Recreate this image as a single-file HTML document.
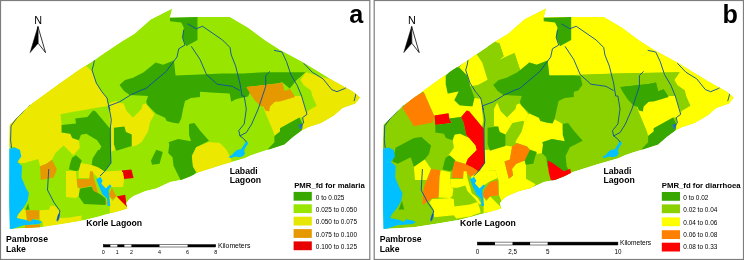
<!DOCTYPE html>
<html><head><meta charset="utf-8"><title>PMR maps</title>
<style>
html,body{margin:0;padding:0;background:#fff}
body{width:744px;height:260px;overflow:hidden;font-family:"Liberation Sans",sans-serif}
svg{display:block}
text{font-family:"Liberation Sans",sans-serif;fill:#000}
.b{font-weight:bold}
</style></head><body>
<svg width="744" height="260" viewBox="0 0 744 260">
<defs><clipPath id="clip"><polygon points="9.3,145 9.7,124.8 30,105 60,83.3 79.2,69.8 94.6,60 100,56 121.6,41.5 134.5,33.8 150.6,19.4 172.2,8.6 170,17.5 197.5,17 230,17 248,27.5 264.7,40 280,49.7 303.7,62.6 333.9,81 353.3,91.7 360,97.5 355.4,103.5 342.5,107.9 333.9,115.4 321,122.9 308,127.3 301.6,130.5 292.9,137 284.3,144.5 269,149.5 260,152.3 251.2,155.3 244.7,158.2 240.4,159.6 223,164.5 199.4,172 190,176.6 181,179.9 170.3,182 156.3,188.5 145,191.3 133.8,196 129.8,198.8 126.3,203 127.5,208.6 116,212 105,214.8 99,216.5 85,220 62.5,223.8 40,227.3 9.8,229 9.2,202.5 9.3,165 9.3,148.75"/></clipPath></defs>
<rect x="0" y="0" width="744" height="260" fill="#fff"/>
<rect x="0.5" y="0.5" width="369.3" height="259" fill="#fff" stroke="#7d7d7d" stroke-width="1.2"/>
<rect x="374.2" y="0.5" width="369.3" height="259" fill="#fff" stroke="#7d7d7d" stroke-width="1.2"/>
<g transform="translate(0,0)"><g clip-path="url(#clip)"><polygon points="9.3,145 9.7,124.8 30,105 60,83.3 79.2,69.8 94.6,60 100,56 121.6,41.5 134.5,33.8 150.6,19.4 172.2,8.6 170,17.5 197.5,17 230,17 248,27.5 264.7,40 280,49.7 303.7,62.6 333.9,81 353.3,91.7 360,97.5 355.4,103.5 342.5,107.9 333.9,115.4 321,122.9 308,127.3 301.6,130.5 292.9,137 284.3,144.5 269,149.5 260,152.3 251.2,155.3 244.7,158.2 240.4,159.6 223,164.5 199.4,172 190,176.6 181,179.9 170.3,182 156.3,188.5 145,191.3 133.8,196 129.8,198.8 126.3,203 127.5,208.6 116,212 105,214.8 99,216.5 85,220 62.5,223.8 40,227.3 9.8,229 9.2,202.5 9.3,165 9.3,148.75" fill="#98e600"/><polygon points="8,146 9,120 30,100 60,80 85,62 86,66 92,71 96.3,83 101.7,91.5 107,98 108.2,106 96.3,107.7 84.5,109.9 74.8,111.4 60.5,114.3 61.6,125 61.6,132.6 70.2,133.7 72.3,138 78.8,140.2 79.9,147.7 73.4,155.3 63.7,145.6 58.5,150 55.3,153.2 52,159.7 46.4,163.8 40,166.2 38.3,158.9 24.6,163 18.9,163 15,147" fill="#ece800"/><polygon points="109.3,103 116,101 123.3,104 123.3,109 126.5,111 120,126 110,127" fill="#ece800"/><polygon points="61.6,125 76,123.5 75.2,118.6 87.4,117 93,110.5 95.5,111.3 108.4,126.7 110,128.5 110.5,151 109,166 100,169 91.7,166 92.8,161.7 101.4,146.6 97.1,140.2 86.3,133.7 81,134.8 78.8,140.2 72.3,138 70.2,133.7 61.6,132.6" fill="#38a800"/><polygon points="72,157.8 76,155.2 81.7,160.2 80.5,165 78.5,170.5 75.2,171 68.8,169.3 70.4,162.7" fill="#38a800"/><polygon points="119.5,85 125,80 133,77.7 143.7,72.3 155.6,62.6 163,64.8 173.9,60.5 175.6,75.6 200,74.5 221.6,73.4 243,73.4 264.7,72.3 293,72.3 305.9,72.3 295,82 289.7,88.5 282,82 280,83 246.6,87.1 249.8,92.8 248,96.5 241.7,97.7 236,99.3 231.2,101.7 229.6,93.6 215,92.8 200,91.7 200,97 191,98 185,101 182.9,109.7 181.3,118.6 178.8,123.5 173.2,122.7 166.7,121 165.1,117.8 156.2,113.8 147.3,104.9 146.2,102 148,96 129.7,95 124,91" fill="#38a800"/><polygon points="170,17.5 197.5,17 197.5,40 186.25,46.25 182.5,37.5 183.75,27.5 181.25,22.5 170,21.25" fill="#38a800"/><polygon points="246.6,87.1 275,83.9 280,83 282.3,82.5 284.5,91.3 289.9,89.2 295,96.9 280,101.4 275,101.7 270,106.6 269.2,111.4 265.2,110.6 263.5,106.6 260.3,105.7 254.6,100 249.8,92.8" fill="#e69800"/><polygon points="305.9,72.3 300.5,79.9 303.7,85.3 311,90.6 312.3,96 316.6,105.7 308,110.7 307,114.3 302.6,117.6 299.4,117.6 280,128.3 280,131.6 274.4,135.9 273.3,131.6 264.7,111 262,103 280,99 294,96 301.6,96 307,112 309,111 303,96 297,84 295,82" fill="#ece800"/><polygon points="305.9,72.3 300.5,79.9 303.7,85.3 311,90.6 312.3,96 316.6,105.7 308,110.7 307,114.3 302.6,117.6 303,124 301.6,130.5 310,130 365,100 360,94 340,82" fill="#ece800"/><polygon points="301.6,96 312.3,96 316.6,105.7 308,110.7" fill="#98e600"/><polygon points="295,82 305.9,72.3 300.5,79.9 303.7,85.3 311,90.6 312.3,96 301.6,96 297,85" fill="#98e600"/><polygon points="280,128.3 299.4,117.6 302.6,124 301.6,132 285,146 269,150 268,149 274.4,142.3 274.4,135.9 280,131.6" fill="#38a800"/><polygon points="189,124 194.4,123 200,130.5 208.6,140.2 209,140.8 196.2,147.2 191.9,155.9 193,166.6 196.2,172 193,176.3 181,181 173.6,165.9 172.5,157.2 168.2,153 169.3,144.3 168.5,142.3 178.2,139 191,141.3 189,134.8" fill="#38a800"/><polygon points="156.3,149.7 162.8,151.9 159.6,163.7 152,164.8 151,160.5" fill="#38a800"/><polygon points="196.2,147.2 209,141.9 219.9,143 226.3,149.4 230.6,158 232,163 200.5,173 196.2,172 193,166.6 191.9,155.9" fill="#ece800"/><polygon points="120,109 123.2,102.5 126.5,111 133,117.6 141.5,108.9 142.6,104.6 145.9,103.5 154.5,114.3 150.2,121.9 148,131.6 141.5,142.3 137,145 133,146.6 131.7,145.9 131.7,134.6 126,132.1 124.4,126.5 120,126" fill="#ece800"/><polygon points="111.3,126 125,126 127,133 114.5,133 114.5,150.5 111.3,151.5" fill="#ece800"/><polygon points="113.9,127.8 124.4,126.5 126,132.1 131.7,134.6 131.7,145.9 116.3,150.7 113.9,144.3" fill="#38a800"/><polygon points="121.7,170.5 131.4,169.4 133.6,178 123.9,179" fill="#e60000"/><polygon points="116.5,196.5 125.2,194.8 126.8,207 124.5,206" fill="#e60000"/><polygon points="98,150 111,150 111,163 104.5,171.6 98,167.2 91.6,165 92.6,158.6" fill="#38a800"/><polygon points="80.8,163 91.6,165 98,167.2 104.5,171.6 121.7,170.5 123.9,178 116.3,181.3 109.9,185.6 105.6,189.9 101.3,183.4 97,177 92.6,172.6 90.5,171.6 89.4,178 78.6,178 78.6,171.6" fill="#ece800"/><polygon points="76.5,179 89.4,179 90,171.2 92.8,171.2 93.7,178 95.9,185.6 98,193 104,198 107.5,203.5 105.5,204.5 101,198.5 93.7,191 91.6,185.6 84,187.7 77.5,187.7" fill="#e69800"/><polygon points="108.8,194.2 112,187.7 116.3,196.3 113,199.6 109.9,197" fill="#e69800"/><polygon points="109.9,197 112.5,201.1 116.5,196.5 126.3,206.3 128,210 109.9,213" fill="#ece800"/><polygon points="79.7,188.8 91.6,186.6 93.7,191 100.2,194.2 105.6,198.5 105.6,205 84,204 78.6,196.3" fill="#38a800"/><polygon points="66,171 76,171 76.5,179 77.5,187.7 79.7,188.8 78.6,196.3 76,198 66,197" fill="#ece800"/><polygon points="110,172 123,172 124,179.9 123,187 114.3,187 110,187" fill="#ece800"/><polygon points="40,166.2 46.4,163.8 52,159.7 56.9,169.4 53.7,177.5 40.7,180" fill="#e69800"/><polygon points="25.5,210.3 39.6,210.3 39.6,219.3 32.2,219.3 30.2,222 26.8,220" fill="#e69800"/><polygon points="25,225.3 40,224.6 40,229 25,230" fill="#e69800"/><polygon points="25.5,209.8 28.2,203 29.5,209.8" fill="#38a800"/><polygon points="18,214.6 23.5,208.5 25.5,210.3 26.8,220 23.5,221 16.7,218" fill="#ece800"/><polygon points="39.6,210.3 49,209.8 50.4,205.8 54.5,205.8 59.2,210.5 59.9,218 70,217.5 81.4,215.5 81.4,222 62.5,225.5 43.7,228.5 42.3,222 39.6,219.3" fill="#ece800"/><polygon points="246.6,87.1 275,83.9 280,83 282.3,82.5 284.5,91.3 289.9,89.2 295,96.9 280,101.4 275,101.7 270,106.6 269.2,111.4 265.2,110.6 263.5,106.6 260.3,105.7 254.6,100 249.8,92.8" fill="#e69800"/><polygon points="9.5,148.75 15,147.5 20,150 21.3,156.5 17.3,162 22,166 21.5,177.5 26.2,188.8 28.9,193 27.5,201 23.5,207.8 18,214.6 16.7,218 26.2,220 30.2,222 32.2,219.3 39,220.6 42.3,222 39,224 23.5,225.3 11,229.5 6,230 6,148" fill="#00c0ff"/><polygon points="96.3,179.4 100.4,176.7 102.6,180.8 101.2,183.5 105.8,188.6 109.8,184.4 111.6,186 108.7,190 109.1,197 110.3,206 107.6,206 107.1,198.5 102.4,194.3 99,186.2" fill="#00c0ff"/><polygon points="228.3,157.2 232.5,154.6 234,152.5 237,150 241,149.3 244.5,144 246.6,140.8 248.3,143.5 245.5,147.5 244.2,150.5 245,153.5 243,156.3 239,157.3 235.5,156.5 231,158" fill="#00c0ff"/><polygon points="298.3,124.5 302.4,124 302.4,128.5 300,129.2" fill="#2b78b8"/><polygon points="58.5,213.5 60.2,214.5 59.2,219 57.5,221.8 56.4,220.5 57.3,216.5" fill="#2b78b8"/><polyline points="187.5,23.75 196.25,28.75 202.5,26.25 222.5,40 230,47.5 231.25,55 235.6,65.9 239.9,83 242,96 244.2,96 246.3,109 244.2,124 238.8,130.5 239.9,135.9 243.6,138.6 246.3,142" fill="none" stroke="#0b4fa3" stroke-width="0.9" stroke-linejoin="round"/><polyline points="183.75,30 182.5,37.5 185,45 178.75,48.75 177,57 172.8,62.6 166.3,71.3 145.9,88.5 140,90.6 130.4,95.1 119.6,101.8 108.5,106 110.2,113.3 111.3,120 110.3,128 110.5,151 111,163 104.5,171.6 100,176" fill="none" stroke="#0b4fa3" stroke-width="0.9" stroke-linejoin="round"/><polyline points="191.25,46.25 200,59.4 206.5,74.5 217.2,84.2 232.3,86.3 239.9,90.6" fill="none" stroke="#0b4fa3" stroke-width="0.9" stroke-linejoin="round"/><polyline points="270,71.3 265.7,75.6 265.7,86.3 262.5,96 258.2,109 251.7,124 246.3,132.6 239.9,135.9" fill="none" stroke="#0b4fa3" stroke-width="0.9" stroke-linejoin="round"/><polyline points="274,50.3 282,52 286.5,61.5 290.8,74.5 297.2,85.3 301.6,96 307,114.3 302.6,117.6 303.7,123 300.5,126" fill="none" stroke="#0b4fa3" stroke-width="0.9" stroke-linejoin="round"/><polyline points="303.7,63.3 312.3,72.3 323,78.8 331.7,89.6 337,91.7 344.7,88.5 347.9,86.3" fill="none" stroke="#0b4fa3" stroke-width="0.9" stroke-linejoin="round"/><polyline points="94.6,58.3 93.5,65 92,70 96.3,83 101.7,91.5 107,98 108.5,105 110,110" fill="none" stroke="#0b4fa3" stroke-width="0.9" stroke-linejoin="round"/><polyline points="30,105 26,107.5 22.5,112.5 17.5,117 13.5,122.5 11,126 10.6,140 11.5,148" fill="none" stroke="#0b4fa3" stroke-width="0.9" stroke-linejoin="round"/><polyline points="356.1,92.9 355.2,97 354,101.2" fill="none" stroke="#0b4fa3" stroke-width="0.9" stroke-linejoin="round"/><polyline points="48.75,169 47.5,190 54,202.5 60,211 57.5,220" fill="none" stroke="#0b4fa3" stroke-width="0.9" stroke-linejoin="round"/></g></g>
<g transform="translate(373.7,0)"><g clip-path="url(#clip)"><polygon points="9.3,145 9.7,124.8 30,105 60,83.3 79.2,69.8 94.6,60 100,56 121.6,41.5 134.5,33.8 150.6,19.4 172.2,8.6 170,17.5 197.5,17 230,17 248,27.5 264.7,40 280,49.7 303.7,62.6 333.9,81 353.3,91.7 360,97.5 355.4,103.5 342.5,107.9 333.9,115.4 321,122.9 308,127.3 301.6,130.5 292.9,137 284.3,144.5 269,149.5 260,152.3 251.2,155.3 244.7,158.2 240.4,159.6 223,164.5 199.4,172 190,176.6 181,179.9 170.3,182 156.3,188.5 145,191.3 133.8,196 129.8,198.8 126.3,203 127.5,208.6 116,212 105,214.8 99,216.5 85,220 62.5,223.8 40,227.3 9.8,229 9.2,202.5 9.3,165 9.3,148.75" fill="#8bd100"/><polygon points="120.3,43.2 125.7,43.2 130,56.2 124.6,60.5 140.8,53 147.2,72.3 155.6,62.6 163,64.8 173.9,60.5 175.6,75.6 200.3,75 243,73.4 305.9,72.3 300.5,79.9 303.7,85.3 311,90.6 312.3,96 316.6,105.7 308,110.7 307,114.3 302.6,117.6 303,124 301.6,130.5 310,130 365,100 362,90 248,25 230,12 172,4 150,15 120.3,38" fill="#ffff00"/><polygon points="109,62.5 116,40 125.7,43.2 130,56.2 124.6,60.5 140.8,53 147.2,72.3 133.2,77.7 120.3,82 113.9,79.7" fill="#8bd100"/><polygon points="85.9,67.9 90,56 100,50 108.5,62.5 113.9,79.7 104.2,85.1 96.6,86.2 93.4,75.4" fill="#ffff00"/><polygon points="71.9,76.5 80,66 85.9,67.9 93.4,75.4 96.6,86.2 100.9,98 98.8,106.6 85.9,105.6 80.5,100.2 84.8,91.6 74,93.7 71.9,84" fill="#38a800"/><polygon points="46,92 71.9,72 71.9,84 74,93.7 84.8,91.6 80.5,100.2 85.9,105.6 98.8,106.6 100.9,98 107.4,99.1 108.5,107.7 108.2,110 109.5,120 108.4,126.7 95.5,111.3 93,110.5 87.4,117 75.6,118.6 74.8,113.2 60.8,115.4 60.5,116 50,92" fill="#ffff00"/><polygon points="28.5,107.7 40,97 50,92 60.5,116 59,122.5 40.2,126.2" fill="#ff8000"/><polygon points="60.8,115.4 74.8,113.2 75.6,118.6 78,123 61.6,125" fill="#ff0000"/><polygon points="61.6,125 78,123 75.6,118.6 87.4,117 90,122.7 92.5,134.8 95.3,138 86.3,133.7 81,134.8 78.8,140.2 72.3,138 70.2,133.7 61.6,132.6" fill="#38a800"/><polygon points="87.4,117 93,110.5 95.5,111.3 108.4,126.7 110,128.5 110.5,151 111.3,163 104.8,171.6 98.3,167.2 91.9,165 92.9,158.6 94.2,158.5 102.8,149.9 101.7,145.6 95.3,138 92.5,134.8 90,122.7" fill="#ff0000"/><polygon points="81,134.8 86.3,133.7 95.3,138 101.7,145.6 102.8,149.9 94.2,158.5 92,164 81.2,160.7 74.8,155.3 80.2,147.7 79.1,140.2" fill="#ffff00"/><polygon points="21.9,147.7 40.2,138 47.7,137 57.4,145.5 55.3,154 51,159.4 40.2,167 37,157.2 24,163.7 18.6,161.5" fill="#38a800"/><polygon points="72,157.8 76,155.2 81.7,160.2 80.5,165 78.5,170.5 75.2,171 68.8,169.3 70.4,162.7" fill="#38a800"/><polygon points="80.8,161 92,164 98.3,167.2 104.8,171.6 97,177 92.6,172.6 90.5,171.6 89.4,178 78.6,178 78.6,171.6" fill="#ff8000"/><polygon points="40.2,167 51,159.4 57.4,169 53.1,179.9 41.3,179.9" fill="#ffff00"/><polygon points="57.4,169 67.1,170.2 66,176 65,197.6 58.5,198.6 48.8,205 49.4,191 51,185 53.1,179.9" fill="#ff8000"/><polygon points="67.1,170.2 76.8,172.3 76.5,179 77.5,187.7 79.7,188.8 78.6,196.3 76,198 65,197.6 66,176" fill="#ffff00"/><polygon points="76.5,179 89.4,179 90,171.2 92.8,171.2 93.7,178 95.9,185.6 98,193 104,198 107.5,203.5 105.5,204.5 101,198.5 93.7,191 91.6,185.6 84,187.7 77.5,187.7" fill="#ffff00"/><polygon points="104.8,171.6 121.7,170.5 123.9,178 116.3,181.3 109.9,185.6 105.6,189.9 101.3,183.4 97,177" fill="#ffff00"/><polygon points="111.3,150 114.3,149.7 132.2,145.6 138.6,146.6 136.2,159.4 130.8,161.5 135.1,178.8 139.4,175.6 138.3,169 142.6,163.7 151.2,160.5 152.3,164.8 152.3,178.8 162,184.2 156.3,190 145,193 133.8,198 128,202 125.2,194.8 125,181 123.9,178 121.7,170.5 112,171 105.5,172 111.3,163" fill="#ffff00"/><polygon points="154.8,114.3 160,110 182,110 181.4,119.7 189,124 189,134.8 191,141.3 178.2,139 168.8,142.3 169.6,144.3 168.5,153 163.1,154 163.1,151.9 156.6,149.7 153.4,146.5 143.7,143.2 141.5,142.3 148,131.6 150.5,121.9" fill="#ffff00"/><polygon points="180.3,130 191,130 192,140.8 189,141 189,134.8" fill="#ffff00"/><polygon points="120.3,109 123.5,102.5 126.8,111 133.3,117.6 138.6,123 131.7,134.6 126,132.1 124.4,126.5 120.3,126" fill="#ffff00"/><polygon points="133.3,117.6 141.8,108.9 142.9,104.6 146.2,103.5 154.8,114.3 150.5,121.9 149.4,120.8 138.6,123" fill="#ffff00"/><polygon points="113.9,127.8 124.4,126.5 126,132.1 131.7,134.6 131.7,145.9 116.3,150.7 113.9,144.3" fill="#38a800"/><polygon points="138.3,146.5 143.7,143.2 153.4,146.5 156.6,150.8 151.2,160.5 142.6,163.7 138.3,169 139.4,175.6 135.1,178.8 130.8,161.5 136.2,159.4" fill="#ff8000"/><polygon points="119.5,85 125,80 133,77.7 143.7,72.3 155.6,62.6 163,64.8 173.9,60.5 175.6,75.6 200.3,75.6 206.8,76.2 210,83 204.6,90.6 200.3,91.7 200,97 191,98 185,101 182.9,109.7 181.3,118.6 178.8,123.5 173.2,122.7 166.7,121 165.1,117.8 156.2,113.8 147.3,104.9 146.2,102 148,96 129.7,95 124,91" fill="#38a800"/><polygon points="170,17.5 197.5,17 197.5,40 186.25,46.25 182.5,37.5 183.75,27.5 181.25,22.5 170,21.25" fill="#38a800"/><polygon points="246.6,87.1 275,83.9 280,83 282.3,82.5 284.5,91.3 289.9,89.2 295,96.9 280,101.4 275,101.7 270,106.6 269.2,111.4 265.2,110.6 263.5,106.6 260.3,105.7 254.6,100 249.8,92.8" fill="#38a800"/><polygon points="243,73.4 305.9,72.3 300.5,79.9 303.7,85.3 311,90.6 312.3,96 316.6,105.7 308,110.7 301.6,96 297,85 295,82 289.7,88.5 282,82 246.6,87.1 243,80" fill="#8bd100"/><polygon points="200.3,75 243,73.4 243,90 210,90 206.8,76.2" fill="#8bd100"/><polygon points="280,128.3 280,131.6 274.4,135.9 273.3,131.6 264.7,111 262,103 280,99 294,96 301.6,96 307,112 307,114.3 302.6,117.6 299.4,117.6" fill="#ffff00"/><polygon points="280,128.3 299.4,117.6 302.6,124 301.6,132 285,146 269,150 268,149 274.4,142.3 274.4,135.9 280,131.6" fill="#38a800"/><polygon points="189,124 194.4,123 200,130.5 208.6,140.2 209,140.8 196.2,147.2 191.9,155.9 193,166.6 196.2,172 193,176.3 181,181 173.6,165.9 172.5,157.2 168.2,153 169.3,144.3 168.5,142.3 178.2,139 191,141.3 189,134.8" fill="#38a800"/><polygon points="156.3,149.7 162.8,151.9 159.6,163.7 152,164.8 151,160.5" fill="#38a800"/><polygon points="173.9,160.5 178.2,162.6 190.3,171.3 196.5,168.8 197.5,174 181.4,182 177.1,179.9 175,172.3" fill="#ff0000"/><polygon points="58.4,199 66.5,198.7 76.6,198 80,199 80.7,206.5 96.3,204.5 103.7,201.9 106,208 107,212.6 96.3,216.6 82.7,218.6 80,215.2 60.5,217.3 59.8,209.2 55.7,202.4" fill="#ffff00"/><polygon points="25,209.4 28.3,200.8 30.5,209.4" fill="#38a800"/><polygon points="108.8,194.2 112,187.7 116.3,182.3 123.9,180.2 125,195.3 116.3,196.3 113,199.6 109.9,197" fill="#ff8000"/><polygon points="109.9,197 112.5,201.1 116.5,196.5 126.3,206.3 128,210 109.9,213" fill="#ffff00"/><polygon points="246.6,87.1 275,83.9 280,83 282.3,82.5 284.5,91.3 289.9,89.2 295,96.9 280,101.4 275,101.7 270,106.6 269.2,111.4 265.2,110.6 263.5,106.6 260.3,105.7 254.6,100 249.8,92.8" fill="#38a800"/><polygon points="9.5,148.75 15,147.5 20,150 21.3,156.5 17.3,162 22,166 21.5,177.5 26.2,188.8 28.9,193 27.5,201 23.5,207.8 18,214.6 16.7,218 26.2,220 30.2,222 32.2,219.3 39,220.6 42.3,222 39,224 23.5,225.3 11,229.5 6,230 6,148" fill="#00c0ff"/><polygon points="96.3,179.4 100.4,176.7 102.6,180.8 101.2,183.5 105.8,188.6 109.8,184.4 111.6,186 108.7,190 109.1,197 110.3,206 107.6,206 107.1,198.5 102.4,194.3 99,186.2" fill="#00c0ff"/><polygon points="228.3,157.2 232.5,154.6 234,152.5 237,150 241,149.3 244.5,144 246.6,140.8 248.3,143.5 245.5,147.5 244.2,150.5 245,153.5 243,156.3 239,157.3 235.5,156.5 231,158" fill="#00c0ff"/><polygon points="298.3,124.5 302.4,124 302.4,128.5 300,129.2" fill="#2b78b8"/><polygon points="58.5,213.5 60.2,214.5 59.2,219 57.5,221.8 56.4,220.5 57.3,216.5" fill="#2b78b8"/><polyline points="187.5,23.75 196.25,28.75 202.5,26.25 222.5,40 230,47.5 231.25,55 235.6,65.9 239.9,83 242,96 244.2,96 246.3,109 244.2,124 238.8,130.5 239.9,135.9 243.6,138.6 246.3,142" fill="none" stroke="#0b4fa3" stroke-width="0.9" stroke-linejoin="round"/><polyline points="183.75,30 182.5,37.5 185,45 178.75,48.75 177,57 172.8,62.6 166.3,71.3 145.9,88.5 140,90.6 130.4,95.1 119.6,101.8 108.5,106 110.2,113.3 111.3,120 110.3,128 110.5,151 111,163 104.5,171.6 100,176" fill="none" stroke="#0b4fa3" stroke-width="0.9" stroke-linejoin="round"/><polyline points="191.25,46.25 200,59.4 206.5,74.5 217.2,84.2 232.3,86.3 239.9,90.6" fill="none" stroke="#0b4fa3" stroke-width="0.9" stroke-linejoin="round"/><polyline points="270,71.3 265.7,75.6 265.7,86.3 262.5,96 258.2,109 251.7,124 246.3,132.6 239.9,135.9" fill="none" stroke="#0b4fa3" stroke-width="0.9" stroke-linejoin="round"/><polyline points="274,50.3 282,52 286.5,61.5 290.8,74.5 297.2,85.3 301.6,96 307,114.3 302.6,117.6 303.7,123 300.5,126" fill="none" stroke="#0b4fa3" stroke-width="0.9" stroke-linejoin="round"/><polyline points="303.7,63.3 312.3,72.3 323,78.8 331.7,89.6 337,91.7 344.7,88.5 347.9,86.3" fill="none" stroke="#0b4fa3" stroke-width="0.9" stroke-linejoin="round"/><polyline points="94.6,58.3 93.5,65 92,70 96.3,83 101.7,91.5 107,98 108.5,105 110,110" fill="none" stroke="#0b4fa3" stroke-width="0.9" stroke-linejoin="round"/><polyline points="30,105 26,107.5 22.5,112.5 17.5,117 13.5,122.5 11,126 10.6,140 11.5,148" fill="none" stroke="#0b4fa3" stroke-width="0.9" stroke-linejoin="round"/><polyline points="356.1,92.9 355.2,97 354,101.2" fill="none" stroke="#0b4fa3" stroke-width="0.9" stroke-linejoin="round"/><polyline points="48.75,169 47.5,190 54,202.5 60,211 57.5,220" fill="none" stroke="#0b4fa3" stroke-width="0.9" stroke-linejoin="round"/></g></g>
<polygon points="37.95,26.5 30.1,52.6 38.1,43.2" fill="#000" stroke="#000" stroke-width="0.5" stroke-linejoin="miter"/><polygon points="37.95,26.5 45.5,52.6 38.1,43.2" fill="#fff" stroke="#000" stroke-width="0.8" stroke-linejoin="miter"/><text x="38.2" y="23.8" font-size="10.8" text-anchor="middle">N</text><polygon points="411.65,26.5 403.8,52.6 411.8,43.2" fill="#000" stroke="#000" stroke-width="0.5" stroke-linejoin="miter"/><polygon points="411.65,26.5 419.2,52.6 411.8,43.2" fill="#fff" stroke="#000" stroke-width="0.8" stroke-linejoin="miter"/><text x="411.9" y="23.8" font-size="10.8" text-anchor="middle">N</text><text class="b" x="6" y="241.8" font-size="8.7">Pambrose</text><text class="b" x="6" y="251.5" font-size="8.7">Lake</text><text class="b" x="86.2" y="225.8" font-size="8.7">Korle Lagoon</text><text class="b" x="229.7" y="173.5" font-size="8.7">Labadi</text><text class="b" x="229.7" y="183.2" font-size="8.7">Lagoon</text><text class="b" x="379.7" y="241.8" font-size="8.7">Pambrose</text><text class="b" x="379.7" y="251.5" font-size="8.7">Lake</text><text class="b" x="459.9" y="225.8" font-size="8.7">Korle Lagoon</text><text class="b" x="603.4" y="173.5" font-size="8.7">Labadi</text><text class="b" x="603.4" y="183.2" font-size="8.7">Lagoon</text><text class="b" x="349.3" y="23.0" font-size="25.2">a</text><text class="b" x="722.4" y="22.9" font-size="25.2">b</text><text class="b" x="294.2" y="187.7" font-size="7.75">PMR_fd for malaria</text><rect x="293.6" y="191.9" width="18.2" height="8.8" fill="#38a800"/><text x="315.8" y="199.5" font-size="6.45">0 to 0.025</text><rect x="293.6" y="204.3" width="18.2" height="8.8" fill="#98e600"/><text x="315.8" y="211.9" font-size="6.45">0.025 to 0.050</text><rect x="293.6" y="216.7" width="18.2" height="8.8" fill="#e6e600"/><text x="315.8" y="224.3" font-size="6.45">0.050 to 0.075</text><rect x="293.6" y="229.1" width="18.2" height="8.8" fill="#e69800"/><text x="315.8" y="236.7" font-size="6.45">0.075 to 0.100</text><rect x="293.6" y="241.4" width="18.2" height="8.8" fill="#e60000"/><text x="315.8" y="249" font-size="6.45">0.100 to 0.125</text><text class="b" x="661.8" y="187.7" font-size="7.75">PMR_fd for diarrhoea</text><rect x="661.8" y="192" width="18.2" height="8.8" fill="#38a800"/><text x="683.3" y="199.6" font-size="6.45">0 to 0.02</text><rect x="661.8" y="204.4" width="18.2" height="8.8" fill="#8bd100"/><text x="683.3" y="211.9" font-size="6.45">0.02 to 0.04</text><rect x="661.8" y="217.4" width="18.2" height="8.8" fill="#ffff00"/><text x="683.3" y="224.6" font-size="6.45">0.04 to 0.06</text><rect x="661.8" y="230.2" width="18.2" height="8.8" fill="#ff8000"/><text x="683.3" y="236.5" font-size="6.45">0.06 to 0.08</text><rect x="661.8" y="242.7" width="18.2" height="8.8" fill="#ff0000"/><text x="683.3" y="248.5" font-size="6.45">0.08 to 0.33</text><rect x="103.3" y="244.6" width="112.4" height="2.4" fill="#fff" stroke="#000" stroke-width="0.5"/><rect x="103.3" y="244.6" width="7.025" height="2.4" fill="#000"/><rect x="117.35" y="244.6" width="7.025" height="2.4" fill="#000"/><rect x="131.4" y="244.6" width="28.1" height="2.4" fill="#000"/><rect x="187.6" y="244.6" width="28.1" height="2.4" fill="#000"/><text x="103.3" y="253.5" font-size="5.4" text-anchor="middle">0</text><text x="117.35" y="253.5" font-size="5.4" text-anchor="middle">1</text><text x="131.4" y="253.5" font-size="5.4" text-anchor="middle">2</text><text x="159.5" y="253.5" font-size="5.4" text-anchor="middle">4</text><text x="187.6" y="253.5" font-size="5.4" text-anchor="middle">6</text><text x="215.7" y="253.5" font-size="5.4" text-anchor="middle">8</text><text x="217.9" y="247.6" font-size="6.9">Kilometers</text><rect x="477.4" y="242.1" width="140.5" height="2.9" fill="#fff" stroke="#000" stroke-width="0.5"/><rect x="477.4" y="242.1" width="17.5625" height="2.9" fill="#000"/><rect x="512.525" y="242.1" width="17.5625" height="2.9" fill="#000"/><rect x="547.65" y="242.1" width="70.25" height="2.9" fill="#000"/><text x="477.4" y="253.5" font-size="6.3" text-anchor="middle">0</text><text x="512.525" y="253.5" font-size="6.3" text-anchor="middle">2,5</text><text x="547.65" y="253.5" font-size="6.3" text-anchor="middle">5</text><text x="617.9" y="253.5" font-size="6.3" text-anchor="middle">10</text><text x="620" y="245.1" font-size="6.6">Kilometers</text>
</svg>
</body></html>
